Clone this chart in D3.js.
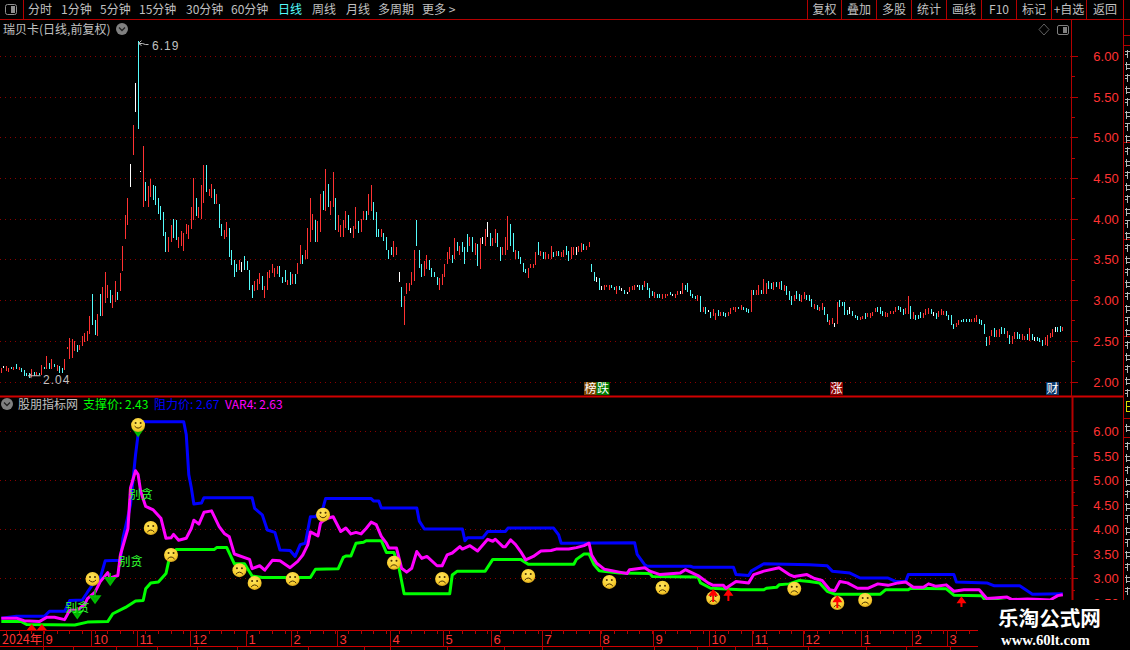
<!DOCTYPE html>
<html>
<head>
<meta charset="utf-8">
<script src="https://cdn.jsdelivr.net/npm/d3@7"></script>
<style>
  html, body { margin: 0; padding: 0; background: #000; overflow: hidden; }
  text { font-family: "Noto Sans CJK SC", sans-serif; }
  .num { font-family: "Liberation Sans", sans-serif; }
</style>
</head>
<body>
<div id="chart"></div>
<script>
// daily bars, ten per row
const barHigh = [
  2.17,2.19,2.19,2.16,2.18,2.18,2.21,2.18,2.17,2.14,
  2.11,2.11,2.15,2.12,2.12,2.11,2.20,2.18,2.31,2.23,
  2.28,2.22,2.20,2.19,2.17,2.28,2.43,2.54,2.52,2.50,
  2.45,2.45,2.56,2.60,2.62,2.80,3.07,2.76,2.83,3.07,
  3.16,3.35,3.18,3.12,3.06,3.24,3.10,3.33,3.67,4.04,
  4.25,4.67,5.15,5.67,6.19,4.59,4.89,4.45,4.40,4.49,
  4.41,4.40,4.26,4.16,4.08,3.84,3.77,3.92,4.00,3.98,
  3.77,3.85,3.83,3.93,3.92,4.14,4.50,4.26,4.14,4.41,
  4.66,4.66,4.37,4.43,4.36,4.31,4.18,3.93,3.86,3.96,
  3.89,3.61,3.49,3.45,3.49,3.47,3.54,3.48,3.37,3.18,
  3.23,3.26,3.33,3.30,3.17,3.34,3.37,3.45,3.39,3.42,
  3.42,3.29,3.37,3.25,3.34,3.32,3.32,3.46,3.68,3.56,
  3.61,3.89,4.25,4.06,3.98,3.97,4.31,4.34,4.61,4.43,
  4.22,4.57,4.25,4.04,3.92,3.98,4.09,4.04,3.89,3.91,
  4.14,3.97,4.00,4.09,4.09,4.30,4.42,4.21,4.08,3.88,
  3.88,3.82,3.77,3.62,3.65,3.73,3.65,3.34,3.16,3.05,
  3.21,3.21,3.34,3.62,3.98,3.61,3.45,3.48,3.56,3.49,
  3.39,3.35,3.29,3.27,3.32,3.45,3.59,3.65,3.55,3.76,
  3.71,3.66,3.71,3.65,3.81,3.78,3.77,3.70,3.69,3.76,
  3.78,3.87,3.96,3.82,3.76,3.87,3.82,3.65,3.65,3.78,
  4.03,3.94,3.82,3.61,3.60,3.53,3.46,3.38,3.40,3.45,
  3.45,3.59,3.71,3.60,3.59,3.59,3.57,3.66,3.59,3.60,
  3.60,3.59,3.62,3.66,3.60,3.65,3.65,3.65,3.67,3.70,
  3.69,3.66,3.71,3.45,3.34,3.29,3.27,3.17,3.18,3.19,
  3.18,3.18,3.16,3.17,3.17,3.15,3.13,3.10,3.16,3.17,
  3.18,3.18,3.18,3.18,3.23,3.21,3.15,3.11,3.10,3.08,
  3.07,3.07,3.07,3.08,3.10,3.08,3.07,3.11,3.11,3.21,
  3.18,3.21,3.12,3.07,3.05,3.06,3.05,2.92,2.91,2.88,
  2.85,2.89,2.84,2.88,2.86,2.86,2.84,2.85,2.90,2.92,
  2.92,2.92,2.94,2.91,2.90,2.89,3.12,3.13,3.12,3.18,
  3.13,3.26,3.21,3.23,3.21,3.22,3.22,3.22,3.23,3.19,
  3.17,3.11,3.05,3.06,3.11,3.07,3.06,3.10,3.06,3.06,
  3.01,2.95,2.94,2.92,2.96,2.92,2.83,2.76,2.78,2.72,
  2.98,3.00,2.98,2.98,2.88,2.92,2.87,2.82,2.80,2.79,
  2.80,2.84,2.84,2.84,2.85,2.90,2.92,2.92,2.87,2.85,
  2.84,2.87,2.87,2.92,2.93,2.92,2.89,2.90,3.05,2.93,
  2.85,2.82,2.82,2.85,2.84,2.89,2.90,2.89,2.85,2.84,
  2.87,2.89,2.87,2.87,2.82,2.82,2.71,2.72,2.76,2.76,
  2.77,2.77,2.77,2.77,2.78,2.82,2.77,2.76,2.71,2.55,
  2.56,2.63,2.66,2.63,2.65,2.67,2.66,2.62,2.57,2.56,
  2.61,2.61,2.58,2.58,2.56,2.58,2.66,2.58,2.55,2.55,
  2.53,2.51,2.55,2.57,2.60,2.65,2.67,2.67,2.68,2.67
]
const barLow = [
  2.11,2.17,2.13,2.12,2.15,2.14,2.15,2.14,2.12,2.07,
  2.07,2.04,2.05,2.07,2.07,2.08,2.08,2.15,2.15,2.15,
  2.15,2.18,2.13,2.11,2.10,2.14,2.40,2.28,2.29,2.38,
  2.36,2.39,2.44,2.48,2.50,2.58,2.70,2.57,2.56,2.80,
  2.80,2.97,3.02,2.97,2.90,2.98,3.00,3.11,3.36,3.75,
  3.92,4.39,4.78,5.31,5.10,4.58,4.14,4.22,4.14,4.27,
  4.23,4.17,4.06,3.98,3.79,3.59,3.59,3.71,3.76,3.74,
  3.64,3.67,3.60,3.81,3.75,3.87,3.98,4.03,4.01,4.00,
  4.19,4.33,4.28,4.26,4.18,4.18,3.89,3.79,3.75,3.78,
  3.53,3.43,3.29,3.35,3.37,3.35,3.37,3.37,3.13,3.03,
  3.11,3.13,3.20,3.13,3.03,3.13,3.27,3.33,3.29,3.32,
  3.29,3.21,3.22,3.18,3.18,3.20,3.20,3.32,3.45,3.45,
  3.50,3.50,3.72,3.86,3.72,3.71,3.84,4.11,4.09,4.14,
  4.05,4.14,3.86,3.84,3.78,3.78,3.89,3.86,3.82,3.76,
  3.88,3.82,3.84,3.99,3.98,4.04,4.10,3.98,3.77,3.77,
  3.77,3.73,3.61,3.50,3.55,3.53,3.55,3.22,2.91,2.69,
  3.07,3.11,3.19,3.24,3.66,3.40,3.28,3.30,3.38,3.37,
  3.29,3.29,3.19,3.13,3.19,3.28,3.44,3.50,3.46,3.51,
  3.60,3.56,3.59,3.45,3.59,3.66,3.59,3.55,3.42,3.38,
  3.69,3.66,3.77,3.66,3.66,3.70,3.65,3.48,3.55,3.56,
  3.61,3.66,3.59,3.50,3.50,3.44,3.34,3.33,3.27,3.39,
  3.40,3.43,3.55,3.54,3.51,3.50,3.51,3.51,3.53,3.54,
  3.54,3.53,3.53,3.56,3.48,3.50,3.56,3.56,3.59,3.59,
  3.61,3.61,3.65,3.34,3.23,3.22,3.13,3.13,3.12,3.16,
  3.13,3.15,3.13,3.08,3.12,3.11,3.07,3.07,3.10,3.13,
  3.13,3.16,3.13,3.13,3.16,3.12,3.03,3.05,3.03,3.03,
  3.02,3.01,3.02,3.05,3.06,3.05,3.03,3.06,3.07,3.07,
  3.13,3.10,3.05,3.02,3.01,2.99,2.86,2.86,2.83,2.85,
  2.78,2.80,2.75,2.80,2.80,2.81,2.79,2.80,2.83,2.88,
  2.86,2.89,2.88,2.88,2.85,2.84,2.85,3.06,3.06,3.06,
  3.07,3.08,3.07,3.14,3.14,3.12,3.16,3.14,3.12,3.11,
  3.06,3.00,2.94,2.99,3.01,2.99,2.98,3.01,3.00,2.99,
  2.92,2.89,2.88,2.87,2.88,2.82,2.73,2.69,2.71,2.67,
  2.71,2.92,2.93,2.82,2.82,2.83,2.80,2.78,2.76,2.76,
  2.77,2.77,2.79,2.78,2.80,2.85,2.85,2.83,2.80,2.79,
  2.79,2.83,2.83,2.85,2.88,2.85,2.82,2.83,2.83,2.77,
  2.77,2.76,2.77,2.78,2.78,2.82,2.83,2.83,2.80,2.77,
  2.79,2.82,2.82,2.80,2.76,2.69,2.65,2.67,2.69,2.73,
  2.73,2.73,2.73,2.73,2.73,2.73,2.71,2.69,2.58,2.44,
  2.45,2.56,2.55,2.55,2.55,2.58,2.58,2.53,2.46,2.46,
  2.52,2.52,2.52,2.51,2.51,2.51,2.50,2.51,2.50,2.50,
  2.49,2.44,2.45,2.44,2.53,2.55,2.61,2.61,2.61,2.62
]
// r = up, c = down, w = flat
const barKind = (
  "rwrrcrcrcc" + "ccrcrcrcrc" + "rcrccrrrrr" + "crrrrrccrc" + "rrrcrrcrrr" + "rwrwcwrcrr" +
  "ccccccrrcc" + "rrrrrrrcrr" + "rcrrcrccrr" + "ccccrwcccc" + "rrrcrrrrrr" + "cccrcrcrrc" +
  "rrrrcrrcrc" + "rrcrrrrcwr" + "rcrrcrrccc" + "rccccrrwcr" + "rrrrcccrrc" + "cccrrrrrcr" +
  "crcccrcrcr" + "wrwcrrccrr" + "rccrccccrr" + "rrcrcrrrcr" + "crrccrrwrr" + "crrccwcwrr" +
  "rccrcwcwrr" + "rwccrcccrc" + "crrrcwrrwr" + "cccccrcrcw" + "crrcrccrrr" + "rcrcccrcrr" +
  "crrccrcrcr" + "cccrccrrcc" + "crcrrccrrw" + "rccccwcccr" + "rcrrrrcccr" + "rrrrcccrrc" +
  "rcccrrrcwc" + "rrrccccrrc" + "cccrrrcccc" + "rrcrrccrcr" + "rccrrcrcwc" + "ccrrrrwccr"
)

// indicator lines: [bar index, price] read at the corners of each line
const resistLine = [[0,2.18],[6,2.22],[17,2.22],[19,2.32],[25,2.32],[27,2.54],[32,2.55],[34,2.71],[36,2.86],[39,2.99],[41,3.35],[47,3.36],[48,3.81],[51,4.49],[53,5.52],[54,5.93],[56,6.19],[72,6.19],[73,5.93],[74,5.11],[75,4.84],[76,4.51],[79,4.53],[80,4.64],[99,4.64],[100,4.42],[103,4.29],[105,3.98],[108,3.93],[110,3.57],[114,3.56],[116,3.44],[118,3.68],[120,3.71],[122,4.25],[124,4.25],[127,4.43],[128,4.62],[146,4.62],[147,4.57],[149,4.57],[150,4.43],[164,4.43],[165,4.16],[167,4.00],[182,4.00],[183,3.76],[184,3.82],[190,3.82],[192,3.95],[199,3.95],[200,4.02],[218,4.02],[220,3.88],[221,3.71],[250,3.72],[251,3.48],[254,3.27],[255,3.24],[272,3.24],[273,3.22],[289,3.22],[290,3.07],[295,3.05],[296,3.14],[301,3.29],[319,3.27],[326,3.25],[328,3.14],[335,3.10],[339,3.00],[350,3.00],[353,2.93],[357,2.93],[358,3.07],[376,3.07],[377,2.92],[389,2.90],[392,2.84],[402,2.84],[407,2.67],[419,2.68]]
const supportLine = [[0,2.11],[8,2.11],[10,2.05],[29,2.04],[34,2.10],[42,2.11],[44,2.27],[49,2.40],[53,2.53],[56,2.54],[57,2.78],[59,2.90],[62,2.92],[65,3.09],[66,3.33],[69,3.58],[84,3.58],[85,3.62],[89,3.62],[92,3.29],[96,3.29],[99,3.04],[103,3.01],[122,3.01],[124,3.18],[133,3.19],[135,3.42],[136,3.45],[138,3.45],[140,3.71],[143,3.73],[144,3.76],[150,3.76],[152,3.52],[155,3.52],[157,3.20],[159,2.68],[177,2.68],[178,3.06],[180,3.14],[191,3.14],[194,3.38],[205,3.38],[208,3.28],[226,3.28],[227,3.38],[230,3.49],[232,3.49],[234,3.27],[236,3.15],[244,3.10],[256,3.09],[257,3.03],[275,3.02],[276,2.90],[280,2.79],[292,2.76],[301,2.76],[302,2.79],[306,2.81],[307,2.86],[311,2.88],[315,2.95],[319,2.93],[323,2.90],[326,2.73],[329,2.67],[347,2.67],[349,2.76],[358,2.76],[359,2.79],[373,2.78],[376,2.65],[387,2.64],[388,2.57],[402,2.49],[419,2.43]]
const var4Line = [[0,2.18],[6,2.18],[9,2.13],[15,2.11],[18,2.20],[21,2.20],[25,2.15],[27,2.34],[30,2.34],[33,2.47],[34,2.58],[37,2.71],[39,2.92],[42,3.11],[43,3.00],[46,3.05],[47,3.47],[50,4.01],[51,4.84],[53,5.19],[54,5.11],[55,4.77],[57,4.46],[60,4.39],[63,4.22],[65,3.81],[67,3.82],[68,3.89],[70,3.77],[73,3.81],[75,4.01],[76,4.18],[78,4.10],[80,4.34],[83,4.37],[86,4.05],[88,3.91],[90,3.84],[92,3.49],[98,3.38],[99,3.19],[102,3.25],[104,3.16],[107,3.36],[110,3.35],[114,3.21],[117,3.34],[119,3.47],[121,3.68],[122,3.94],[125,3.86],[126,4.12],[128,4.21],[131,4.25],[134,3.95],[136,4.02],[138,3.90],[140,3.93],[142,3.90],[144,4.01],[146,4.14],[148,4.09],[150,3.85],[152,3.71],[153,3.61],[156,3.61],[158,3.20],[160,3.12],[162,3.20],[164,3.54],[166,3.40],[168,3.44],[172,3.25],[174,3.25],[176,3.47],[178,3.51],[181,3.64],[182,3.59],[185,3.66],[188,3.55],[192,3.79],[194,3.75],[195,3.79],[198,3.64],[199,3.64],[201,3.78],[203,3.68],[205,3.54],[207,3.37],[210,3.44],[213,3.55],[217,3.56],[219,3.59],[224,3.59],[227,3.62],[230,3.66],[232,3.71],[233,3.47],[235,3.30],[238,3.18],[244,3.12],[247,3.09],[248,3.17],[254,3.21],[256,3.14],[260,3.07],[268,3.10],[270,3.17],[275,3.05],[279,2.90],[281,2.85],[285,2.85],[286,2.79],[290,2.93],[295,2.90],[297,3.07],[301,3.14],[307,3.21],[311,3.07],[313,3.03],[318,3.07],[321,2.99],[324,2.95],[327,2.76],[329,2.74],[331,2.93],[334,2.90],[338,2.79],[342,2.79],[346,2.88],[350,2.85],[354,2.90],[357,2.92],[360,2.81],[364,2.81],[366,2.88],[369,2.83],[373,2.86],[376,2.73],[380,2.76],[386,2.76],[389,2.58],[392,2.59],[397,2.61],[399,2.56],[405,2.57],[410,2.56],[414,2.55],[417,2.64],[419,2.66]]

// signals on the lower panel: [bar index, price]
const smileFaces = [[54,6.12],[36,2.98],[127,4.29]]
const frownFaces = [[59,4.02],[67,3.47],[94,3.16],[100,2.90],[115,2.98],[155,3.31],[174,2.98],[208,3.04],[240,2.92],[261,2.80],[281,2.59],[313,2.78],[330,2.49],[341,2.55]]
const warnLabels = [[30,2.41],[51,3.35],[55,4.71]]
const warnText = "别贪"
// [bar index, tip price, tail price]
const greenArrows = [[30,2.18,2.41],[37,2.49,2.76],[43,2.86,3.10],[54,5.90,6.12]]
const redArrows = [[281,2.78,2.51],[287,2.78,2.53],[330,2.65,2.39],[379,2.63,2.41]]
const bottomFlags = [12,16]

const upperTicks = [6,5.5,5,4.5,4,3.5,3,2.5,2]
const upperMinor = [5.75,5.25,4.75,4.25,3.75,3.25,2.75,2.25]
const lowerTicks = [6,5.5,5,4.5,4,3.5,3,2.5]
const lowerMinor = [5.75,5.25,4.75,4.25,3.75,3.25,2.75]
const lowerGrid = [6,5,4,3]

const monthBars = [17,36,54,75,97,115,133,154,175,194,214,237,258,280,297,317,340,360,374]
const monthNames = ["9","10","11","12","1","2","3","4","5","6","7","8","9","10","11","12","1","2","3"]
const tabEdges = [43,73,116,157,197,237,308,364,390,447,504,542,602,654,697,735,767,808,866,906,950]

const periodNames = ["分时","1分钟","5分钟","15分钟","30分钟","60分钟","日线","周线","月线","多周期","更多 >"]
const periodLeft = [28,61,100,139,186,231,278,312,346,378,422]
const toolNames = ["复权","叠加","多股","统计","画线","F10","标记","+自选","返回"]
const toolEdges = [807.5,841.5,876.5,911.5,946.5,981.5,1016.5,1051.5,1086.5,1123.5]

const width = 1130, height = 650
const red = "#ff3232", frame = "#b40000", gridRed = "#8a0000"
const barColor = { r: "#ff3232", c: "#54fcfc", w: "#ffffff" }

const svg = d3.select("#chart").append("svg")
  .attr("width", width).attr("height", height)
  .style("display", "block").style("background", "#000")

const x = d3.scaleLinear().domain([0, 419]).range([1.3, 1062.8])
const px = i => Math.floor(x(i)) + 0.5
const yUp = d3.scaleLinear().domain([2, 6]).range([381.5, 56])
const yLow = d3.scaleLinear().domain([3, 6]).range([578, 431])

// face gradient
const grad = svg.append("defs").append("radialGradient").attr("id", "faceFill")
  .attr("cx", "45%").attr("cy", "35%").attr("r", "70%")
grad.append("stop").attr("offset", "0%").attr("stop-color", "#ffe75e")
grad.append("stop").attr("offset", "70%").attr("stop-color", "#f7cb2d")
grad.append("stop").attr("offset", "100%").attr("stop-color", "#c8951a")

// dotted grids
svg.append("g").selectAll("line").data(upperTicks).enter().append("line")
  .attr("x1", 0).attr("x2", 1071)
  .attr("y1", d => Math.round(yUp(d)) + .5).attr("y2", d => Math.round(yUp(d)) + .5)
  .attr("stroke", gridRed).attr("stroke-dasharray", "1 4")
svg.append("g").selectAll("line").data(lowerGrid).enter().append("line")
  .attr("x1", 0).attr("x2", 1071)
  .attr("y1", d => Math.round(yLow(d)) + .5).attr("y2", d => Math.round(yLow(d)) + .5)
  .attr("stroke", gridRed).attr("stroke-dasharray", "1 4")

// candles, each one a 1px stroke at this zoom level
svg.append("g").selectAll("rect").data(barHigh).enter().append("rect")
  .attr("x", (d, i) => Math.floor(x(i)))
  .attr("y", d => yUp(d))
  .attr("width", 1)
  .attr("height", (d, i) => Math.max(1, yUp(barLow[i]) - yUp(d)))
  .attr("fill", (d, i) => barColor[barKind[i]])
  .attr("shape-rendering", "crispEdges")

// high / low notes
const note = svg.append("g").attr("fill", "#c0c0c0").attr("stroke", "none")
note.append("path")
  .attr("d", `M${px(54)},${yUp(6.19) + 3} l3,-3 m-3,3 l3,2 m-3,-2 h4 l3,1 h3`)
  .attr("fill", "none").attr("stroke", "#c0c0c0")
note.append("text").attr("class", "num").attr("x", 152).attr("y", 50)
  .attr("font-size", 12).attr("letter-spacing", 1).text("6.19")
note.append("path")
  .attr("d", `M${px(11) - 1},${yUp(2.04) - 2.5} l3,-2 m-3,2 l3,2 m-3,-2 h12`)
  .attr("fill", "none").attr("stroke", "#c0c0c0")
note.append("text").attr("class", "num").attr("x", 43).attr("y", 384)
  .attr("font-size", 12).attr("letter-spacing", 1).text("2.04")

// event tags on the bottom of the upper panel
const tags = [["榜",584,"#7a4400"],["跌",596.5,"#007a00"],["涨",830,"#8a0000"],["财",1046,"#0a3a6e"]]
const tagG = svg.append("g").selectAll("g").data(tags).enter().append("g")
tagG.append("rect").attr("x", d => d[1]).attr("y", 382).attr("width", 13).attr("height", 13)
  .attr("fill", d => d[2])
tagG.append("text").attr("x", d => d[1] + 6.5).attr("y", 393).attr("text-anchor", "middle")
  .attr("font-size", 12).attr("fill", "#fff").text(d => d[0])

// indicator lines
const line = d3.line().x(d => x(d[0])).y(d => yLow(d[1]))
const series = [[supportLine, "#00ff00"], [resistLine, "#0000ff"], [var4Line, "#ff00ff"]]
svg.append("g").selectAll("path").data(series).enter().append("path")
  .attr("d", d => line(d[0]))
  .attr("fill", "none").attr("stroke", d => d[1]).attr("stroke-width", 3)
  .attr("stroke-linejoin", "round")

// green warning arrows
const greenG = svg.append("g")
greenG.selectAll("path").data(greenArrows).enter().append("path")
  .attr("d", d => {
    const cx = x(d[0]), tip = yLow(d[1]), tail = yLow(d[2])
    return `M${cx},${tail} V${tip - 5} M${cx - 5},${tip - 7} H${cx + 5} L${cx},${tip} Z`
  })
  .attr("fill", "#00b000").attr("stroke", "#00c000").attr("stroke-width", 1.5)

// faces
function drawFaces(data, smile) {
  const g = svg.append("g").selectAll("g").data(data).enter().append("g")
    .attr("transform", d => `translate(${x(d[0])},${yLow(d[1])})`)
  g.append("circle").attr("r", 7).attr("fill", "url(#faceFill)")
  g.append("circle").attr("cx", -2.5).attr("cy", -2).attr("r", 1).attr("fill", "#4a3000")
  g.append("circle").attr("cx", 2.5).attr("cy", -2).attr("r", 1).attr("fill", "#4a3000")
  g.append("path")
    .attr("d", smile ? "M-3.5,1 Q0,5 3.5,1" : "M-3.5,4 Q0,0 3.5,4")
    .attr("fill", "none").attr("stroke", "#4a3000").attr("stroke-width", 1)
}
drawFaces(frownFaces, false)
drawFaces(smileFaces, true)

svg.append("g").selectAll("text").data(warnLabels).enter().append("text")
  .attr("x", d => x(d[0])).attr("y", d => yLow(d[1]) + 5)
  .attr("text-anchor", "middle").attr("font-size", 12).attr("fill", "#30ff30")
  .text(warnText)

// red arrows
svg.append("g").selectAll("path").data(redArrows).enter().append("path")
  .attr("d", d => {
    const cx = x(d[0]), tip = yLow(d[1]), tail = yLow(d[2])
    return `M${cx - 1},${tail} V${tip + 7} H${cx - 5} L${cx},${tip} L${cx + 5},${tip + 7} H${cx + 1} V${tail} Z`
  })
  .attr("fill", "#ff0000")
svg.append("g").selectAll("path").data(bottomFlags).enter().append("path")
  .attr("d", d => `M${x(d) - 5},630 L${x(d)},624 L${x(d) + 5},630 Z`)
  .attr("fill", "#ff0000")

// frame lines
svg.append("line").attr("x1", 0).attr("x2", 1130).attr("y1", 19.5).attr("y2", 19.5).attr("stroke", frame)
svg.append("line").attr("x1", 0).attr("x2", 1123).attr("y1", 396.5).attr("y2", 396.5).attr("stroke", "#d00000").attr("stroke-width", 2)
svg.append("line").attr("x1", 1071.5).attr("x2", 1071.5).attr("y1", 19).attr("y2", 396).attr("stroke", frame)
svg.append("line").attr("x1", 1072.5).attr("x2", 1072.5).attr("y1", 396).attr("y2", 600).attr("stroke", frame).attr("stroke-width", 2)
svg.append("line").attr("x1", 1123.5).attr("x2", 1123.5).attr("y1", 19).attr("y2", 600).attr("stroke", frame)
svg.append("line").attr("x1", 23.5).attr("x2", 23.5).attr("y1", 0).attr("y2", 19).attr("stroke", frame)

// price axes
function priceAxis(scale, majors, minors) {
  const g = svg.append("g")
  g.selectAll("line.maj").data(majors).enter().append("line").attr("class", "maj")
    .attr("x1", 1072).attr("x2", 1078)
    .attr("y1", d => Math.round(scale(d)) + .5).attr("y2", d => Math.round(scale(d)) + .5)
    .attr("stroke", frame)
  g.selectAll("line.min").data(minors).enter().append("line").attr("class", "min")
    .attr("x1", 1072).attr("x2", 1075)
    .attr("y1", d => Math.round(scale(d)) + .5).attr("y2", d => Math.round(scale(d)) + .5)
    .attr("stroke", frame)
  g.selectAll("text").data(majors).enter().append("text").attr("class", "num")
    .attr("x", 1106).attr("y", d => scale(d) + 5)
    .attr("text-anchor", "middle").attr("font-size", 13).attr("fill", red)
    .text(d => d.toFixed(2))
}
priceAxis(yUp, upperTicks, upperMinor)
priceAxis(yLow, lowerTicks, lowerMinor)

// top toolbar
svg.append("rect").attr("x", 5.5).attr("y", 4.5).attr("width", 11).attr("height", 10).attr("rx", 2)
  .attr("fill", "none").attr("stroke", "#909090")
svg.append("rect").attr("x", 11).attr("y", 6).attr("width", 4).attr("height", 7).attr("fill", "#909090")
svg.append("g").selectAll("text").data(periodNames).enter().append("text")
  .attr("x", (d, i) => periodLeft[i]).attr("y", 14)
  .attr("font-size", 12)
  .attr("fill", d => d === "日线" ? "#54fcfc" : "#c0c0c0")
  .text(d => d)
svg.append("g").selectAll("line").data(toolEdges).enter().append("line")
  .attr("x1", d => d).attr("x2", d => d).attr("y1", 0).attr("y2", 19).attr("stroke", frame)
svg.append("g").selectAll("text").data(toolNames).enter().append("text")
  .attr("x", (d, i) => (toolEdges[i] + toolEdges[i + 1]) / 2).attr("y", 14)
  .attr("text-anchor", "middle").attr("font-size", 12).attr("fill", "#c0c0c0")
  .text(d => d)

function chevron(cx, cy) {
  svg.append("circle").attr("cx", cx).attr("cy", cy).attr("r", 6).attr("fill", "#808080")
  svg.append("path").attr("d", `M${cx - 3},${cy - 1.5} L${cx},${cy + 1.5} L${cx + 3},${cy - 1.5}`)
    .attr("fill", "none").attr("stroke", "#222").attr("stroke-width", 1.3)
}

// panel titles
svg.append("text").attr("x", 3).attr("y", 34).attr("font-size", 12).attr("fill", "#c0c0c0").text("瑞贝卡(日线,前复权)")
chevron(122, 29)
svg.append("path").attr("d", "M1044,24 L1049,29.5 L1044,35 L1039,29.5 Z").attr("fill", "none").attr("stroke", "#606060")
svg.append("rect").attr("x", 1057.5).attr("y", 25.5).attr("width", 11).attr("height", 9).attr("rx", 1.5)
  .attr("fill", "none").attr("stroke", "#808080")
svg.append("rect").attr("x", 1063).attr("y", 27).attr("width", 4).attr("height", 6).attr("fill", "#808080")

chevron(7, 404)
const legendLabels = [["股朋指标网",18,"#c0c0c0"],["支撑价: 2.43",83,"#00ff00"],["阻力价: 2.67",154,"#0000ff"],["VAR4: 2.63",225,"#ff00ff"]]
svg.append("g").selectAll("text").data(legendLabels).enter().append("text")
  .attr("x", d => d[1]).attr("y", 409).attr("font-size", 12).attr("fill", d => d[2]).text(d => d[0])

// time axis
const axisG = svg.append("g")
axisG.append("line").attr("x1", 0).attr("x2", 978).attr("y1", 630.5).attr("y2", 630.5).attr("stroke", "#d00000").attr("stroke-width", 1)
axisG.append("line").attr("x1", 0).attr("x2", 978).attr("y1", 646.5).attr("y2", 646.5).attr("stroke", "#d00000").attr("stroke-width", 1)
axisG.selectAll("line.wk").data(d3.range(2, 386, 5)).enter().append("line").attr("class", "wk")
  .attr("x1", d => px(d)).attr("x2", d => px(d)).attr("y1", 630).attr("y2", 634).attr("stroke", frame)
axisG.selectAll("line.mo").data(monthBars).enter().append("line").attr("class", "mo")
  .attr("x1", d => px(d) - 1).attr("x2", d => px(d) - 1).attr("y1", 630).attr("y2", 646).attr("stroke", frame)
axisG.selectAll("text.mo").data(monthNames).enter().append("text").attr("class", "mo num")
  .attr("x", (d, i) => px(monthBars[i]) + 1).attr("y", 644)
  .attr("font-size", 13).attr("fill", red).text(d => d)
axisG.append("text").attr("x", 2).attr("y", 644).attr("font-size", 12.5).attr("fill", red).text("2024年")
axisG.selectAll("line.tab").data(tabEdges).enter().append("line").attr("class", "tab")
  .attr("x1", d => d + .5).attr("x2", d => d + .5).attr("y1", 646).attr("y2", 650).attr("stroke", frame)

// right hand side tabs: only slivers of the glyphs show past the frame, too little to read
const sideSplits = [35.5,45.5,142.5,239.5,336.5,418.5,437.5]
svg.append("g").selectAll("line").data(sideSplits).enter().append("line")
  .attr("x1", 1123).attr("x2", 1130).attr("y1", d => d).attr("y2", d => d).attr("stroke", frame)
const sideRows = [...d3.range(50, 140, 12.1), ...d3.range(147, 237, 12.1), ...d3.range(244, 334, 12.1), ...d3.range(341, 393, 12.1), ...d3.range(424, 434, 12.1), ...d3.range(442, 598, 12.1)]
svg.append("g").selectAll("path").data(sideRows).enter().append("path")
  .attr("d", (d, i) => i % 2
    ? `M1126,${d} v8 M1125,${d + 2} h5 M1126,${d + 6} h4`
    : `M1127,${d} v8 M1125,${d + 1} h5 M1125,${d + 4} h3`)
  .attr("fill", "none").attr("stroke", "#b8b8b8").attr("shape-rendering", "crispEdges")
svg.append("path").attr("d", "M1126,401 v11 M1126,401.5 h4 M1126,406.5 h4 M1126,411.5 h4")
  .attr("fill", "none").attr("stroke", "#d8d800").attr("shape-rendering", "crispEdges")

// watermark block over the corner
svg.append("rect").attr("x", 979).attr("y", 600).attr("width", 151).attr("height", 50).attr("fill", "#000")
svg.append("text").attr("x", 998).attr("y", 626).attr("font-size", 20.6).attr("font-weight", 700)
  .attr("fill", "#fff").text("乐淘公式网")
svg.append("text").attr("x", 1001).attr("y", 645).attr("font-size", 14.8).attr("font-weight", 700)
  .style("font-family", '"Liberation Serif", serif').attr("fill", "#fff").text("www.60lt.com")
</script>
</body>
</html>
